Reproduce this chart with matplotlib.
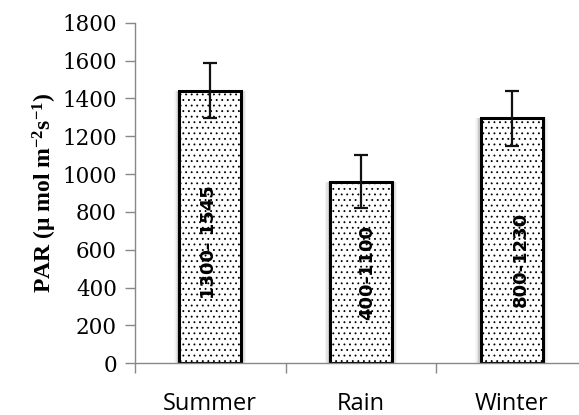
import matplotlib.pyplot as plt
import numpy as np

seasons = ["Summer", "Rain", "Winter"]
par_mean = [1440, 960, 1295]
par_err = [145, 140, 145]
par_range = ["1300- 1545", "400-1100", "800-1230"]

plt.rcParams['hatch.linewidth'] = 0.6
plt.rcParams['hatch.color'] = '#555555'
plt.rcParams['mathtext.fontset'] = 'custom'
plt.rcParams['mathtext.rm'] = 'Liberation Serif:bold'
plt.rcParams['mathtext.it'] = 'Liberation Serif:bold'
plt.rcParams['mathtext.bf'] = 'Liberation Serif:bold'

fig = plt.figure(figsize=(5.79, 4.15), dpi=100)
ax = fig.add_axes([0.233, 0.125, 0.767, 0.82])

x = np.arange(len(seasons))
w = 0.41

# soft shadow round the bars
for grow, a in [(0.07, 0.04), (0.05, 0.07), (0.03, 0.1)]:
    ax.bar(x, par_mean, width=w + grow, color='#000000', alpha=a, linewidth=0, zorder=1)

ax.bar(x, par_mean, width=w, color='white', edgecolor='black', linewidth=2.2,
       hatch='...', zorder=2)
ax.errorbar(x, par_mean, yerr=par_err, fmt='none', ecolor='#111111',
            elinewidth=1.6, capsize=5, capthick=1.6, zorder=3)

# range labels inside the bars
label_y = [641, 482, 551]
label_dx = [-0.01, 0.04, 0.06]
for i in range(len(seasons)):
    ax.text(x[i] + label_dx[i], label_y[i], par_range[i], rotation=90,
            ha='center', va='center', fontsize=13, fontweight='bold',
            family='DejaVu Sans', zorder=4)

ax.set_xlim(-0.5, 2.447)
ax.set_ylim(0, 1800)
ax.set_yticks(np.arange(0, 1801, 200))
for lab in ax.get_yticklabels():
    lab.set_family('DejaVu Serif')
    lab.set_fontsize(15.5)
ax.tick_params(axis='y', length=7, width=1, color='#888888', pad=6)

ax.set_xticks([-0.5, 0.5, 1.5])
ax.set_xticklabels([])
ax.tick_params(axis='x', which='major', length=7, width=1, color='#888888')
ax.set_xticks(x, minor=True)
ax.set_xticklabels(seasons, minor=True, family='Open Sans', fontsize=17)
ax.tick_params(axis='x', which='minor', length=0, pad=21)

for s in ['top', 'right']:
    ax.spines[s].set_visible(False)
for s in ['left', 'bottom']:
    ax.spines[s].set_color('#888888')
    ax.spines[s].set_linewidth(1)

ax.set_ylabel(r'PAR ($\mathrm{\mu}$ mol m$^{-2}$s$^{-1}$)',
              family='Liberation Serif', fontweight='bold', fontsize=17, labelpad=2)

fig.savefig('out.png', dpi=100)
